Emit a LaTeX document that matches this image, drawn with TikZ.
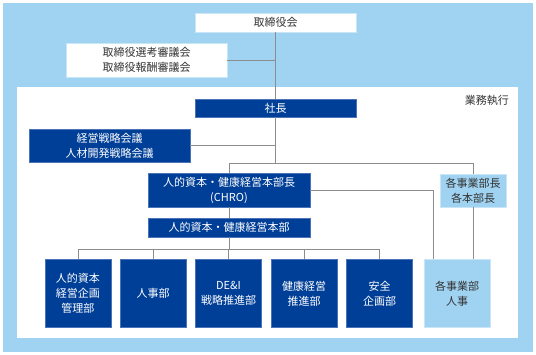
\documentclass[tikz,border=0pt]{standalone}
\usepackage{fontspec}
\setmainfont{Noto Sans CJK JP}
\usetikzlibrary{calc}
\definecolor{lightbg}{HTML}{A0D3F1}
\definecolor{darkbl}{HTML}{003F97}
\definecolor{linegray}{HTML}{8C8C8C}
\definecolor{txtgray}{HTML}{333333}
\definecolor{dkedge}{HTML}{4A73B8}
\definecolor{ltedge}{HTML}{C8E6F8}
\tikzset{
  basebox/.style={inner sep=0pt, align=center, font=\fontsize{11}{15}\selectfont, line width=0.6pt},
  whitebox/.style={basebox, fill=white, draw=ltedge, text=txtgray},
  darkbox/.style={basebox, fill=darkbl, draw=dkedge, text=white},
  lightbox/.style={basebox, fill=lightbg, draw=ltedge, text=txtgray},
  conn/.style={draw=linegray, line width=1pt},
}
\begin{document}
\begin{tikzpicture}[x=1pt,y=-1pt]
\useasboundingbox (0,0) rectangle (536,354);
\fill[lightbg] (3,3) rectangle (533,352);
\fill[white] (17,87) rectangle (518,338);
\node[anchor=east, text=txtgray, font=\fontsize{11}{12}\selectfont, inner sep=0pt] (exec) at (509,100) {業務執行};

\node[whitebox, minimum width=161, minimum height=19] (board) at (275.5,22.5) {取締役会};
\node[whitebox, minimum width=161, minimum height=34] (comm) at (146.5,60) {取締役選考審議会\\取締役報酬審議会};
\node[darkbox, minimum width=161, minimum height=18] (pres) at (275.5,108) {社長};
\node[darkbox, minimum width=161, minimum height=33] (meet) at (109.5,145.5) {経営戦略会議\\人材開発戦略会議};
\node[darkbox, minimum width=162, minimum height=34] (chro) at (229,190) {人的資本・健康経営本部長\\(CHRO)};
\node[darkbox, minimum width=162, minimum height=19] (hc) at (229,227.5) {人的資本・健康経営本部};
\node[lightbox, minimum width=66, minimum height=33] (bu) at (473,190.5) {各事業部長\\各本部長};

\node[darkbox, minimum width=66, minimum height=68] (d1) at (78,293.5) {人的資本\\経営企画\\管理部};
\node[darkbox, minimum width=66, minimum height=68] (d2) at (153,293.5) {人事部};
\node[darkbox, minimum width=66, minimum height=68] (d3) at (228.5,293.5) {DE\&I\\戦略推進部};
\node[darkbox, minimum width=66, minimum height=68] (d4) at (304,293.5) {健康経営\\推進部};
\node[darkbox, minimum width=66, minimum height=68] (d5) at (379.5,293.5) {安全\\企画部};
\node[lightbox, minimum width=66, minimum height=68] (bhr) at (457,293.5) {各事業部\\人事};

% connectors
\draw[conn] (board.south) -- (pres.north);
\draw[conn] (comm.east) -- (comm.east -| board.south);
\draw[conn] (meet.east) -- (meet.east -| pres.south);
\coordinate (jl) at (229,163);
\coordinate (jr) at (473,163);
\draw[conn] (pres.south) -- (pres.south |- jl);
\draw[conn] (chro.north) -- (jl) -- (jr) -- (bu.north);
\draw[conn] (chro.south) -- (hc.north);
\coordinate (bl) at (78,249);
\coordinate (br) at (379.5,249);
\draw[conn] (hc.south) -- (hc.south |- bl);
\draw[conn] (bl) -- (br);
\foreach \d in {d1,d2,d3,d4,d5} { \draw[conn] (\d.north) -- (\d.north |- bl); }
\coordinate (bx) at ($(bhr.north west)!0.15!(bhr.north east)$);
\draw[conn] (chro.east) -| (bx);
\draw[conn] (bu.south) -- (bu.south |- bhr.north);
\end{tikzpicture}
\end{document}
